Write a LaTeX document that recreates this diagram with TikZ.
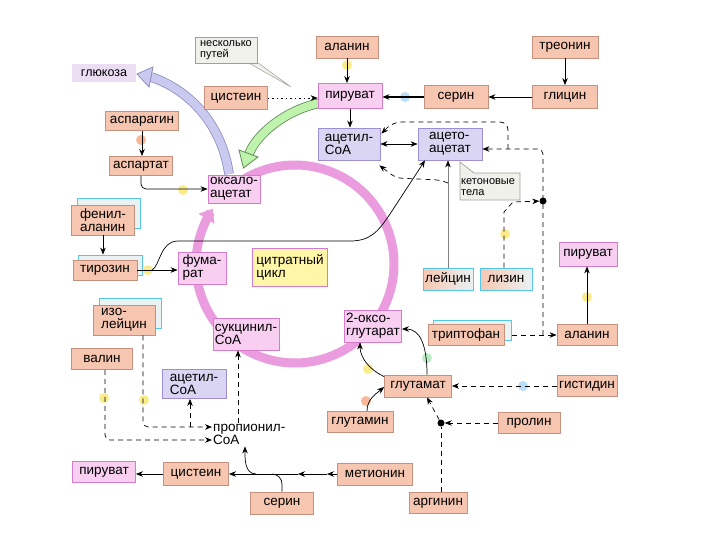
\documentclass[tikz,border=0pt]{standalone}
\usepackage{fontspec}
\setmainfont{Liberation Sans}
\usetikzlibrary{arrows.meta}
\definecolor{salF}{HTML}{F6C6B0}
\definecolor{salD}{HTML}{C4917E}
\definecolor{pinkF}{HTML}{F8CFF0}
\definecolor{pinkD}{HTML}{D47CC8}
\definecolor{lavF}{HTML}{DAD5F2}
\definecolor{lavD}{HTML}{9C90D2}
\definecolor{grayF}{HTML}{F1F1EC}
\definecolor{grayD}{HTML}{A0A09A}
\definecolor{cyanD}{HTML}{55C8E8}
\definecolor{shF}{HTML}{EAF2F4}
\definecolor{yelF}{HTML}{FFF6A8}
\definecolor{ringC}{HTML}{EA9CDF}
\definecolor{glF}{HTML}{CACAF0}
\definecolor{glD}{HTML}{8E8EC0}
\definecolor{grF}{HTML}{BFF2AC}
\definecolor{grD}{HTML}{5E8C54}
\definecolor{glcF}{HTML}{EBDDF2}
\definecolor{dotY}{HTML}{F8E040}
\definecolor{dotB}{HTML}{8CC8F0}
\definecolor{dotO}{HTML}{F08A50}
\definecolor{dotG}{HTML}{90E0A0}
\begin{document}
\begin{tikzpicture}[x=1pt,y=-1pt,
  lbl/.style={font=\fontsize{13.5}{13}\selectfont, align=left, inner sep=1pt},
  box/.style={lbl, draw, line width=0.8pt},
  sz/.style 2 args={minimum width=#1pt, minimum height=#2pt},
  sal/.style={box, fill=salF, draw=salD},
  pnk/.style={box, fill=pinkF, draw=pinkD},
  lav/.style={box, fill=lavF, draw=lavD},
  cyb/.style={box, draw=cyanD, left color=salF, right color=shF},
  shb/.style={draw=cyanD, fill=shF, line width=0.8pt, inner sep=0pt},
  ar/.style={line width=0.7pt, -{Stealth[length=7pt,width=5.5pt]}},
  dsh/.style={ar, dash pattern=on 5pt off 4pt},
  glow/.style={opacity=0.6},
  bdot/.style={circle, fill=black, inner sep=0pt, minimum size=7pt},
]
\fill[white] (0,0) rectangle (720,540);
\useasboundingbox (0,0) rectangle (720,540);

% citrate cycle ring
\draw[ringC, line width=9pt, -{Triangle[length=12pt,width=18pt]}]
  plot[domain=-130:214, samples=140] ({295+99*cos(\x)}, {264+99*sin(\x)});

% glucose block arrow
\draw[glD, line width=0.8pt, double=glF, double distance=8pt]
  (229,174) .. controls (222,125) and (190,90) .. (151,77);
\draw[glD, fill=glF, line width=0.8pt] (153,67) -- (137,74) -- (149,87) -- cycle;
% green block arrow
\draw[grD, line width=0.8pt, double=grF, double distance=8pt]
  (320,103) .. controls (285,110) and (256,135) .. (249,154);
\draw[grD, fill=grF, line width=0.8pt] (258,157) -- (243.5,168) -- (239,150) -- cycle;

% pointer of "several ways"
\draw[grayD, fill=grayF, line width=0.5pt] (247,62) -- (257,62) -- (291,87) -- cycle;

% shadow boxes
\node[shb, sz={63}{30}] (pheS) at (109,213) {};
\node[shb, sz={64}{20}] (tyrS) at (110,265) {};
\node[shb, sz={62}{30}] (ileS) at (130,313) {};
\node[shb, sz={78}{20}] (trpS) at (472,330) {};

% ketone bodies callout
\draw[grayD, fill=grayF, line width=0.7pt] (460,162) -- (474,173) -- (520,173) -- (520,200) -- (460,200) -- cycle;
\node[font=\fontsize{11}{11}\selectfont, align=left, inner sep=0pt, anchor=west] (keton) at (461,187) {кетоновые\\тела};

% nodes
\node[box, draw=grayD, fill=grayF, font=\fontsize{11}{10.5}\selectfont, sz={62}{26}] (few) at (226,50) {несколько\\путей};
\node[lbl, fill=glcF, font=\fontsize{12.5}{12}\selectfont, sz={64}{18}] (gluc) at (104,73) {глюкоза};
\node[sal, sz={62}{22}] (alan1) at (347,47) {аланин};
\node[sal, sz={66}{22}] (treon) at (565,47) {треонин};
\node[sal, sz={63}{23}] (cys1) at (236,98) {цистеин};
\node[pnk, sz={64}{25}] (pyr1) at (350,96) {пируват};
\node[sal, sz={64}{23}] (ser1) at (456,97) {серин};
\node[sal, sz={65}{23}] (gly) at (565,97) {глицин};
\node[sal, sz={73}{19}] (asn) at (142,121) {аспарагин};
\node[sal, sz={63}{19}] (asp) at (141,166) {аспартат};
\node[lav, sz={62}{32}] (acoa1) at (349,144) {ацетил-\\CoA};
\node[lav, sz={64}{32}] (acac) at (450,144) {ацето-\\ацетат};
\node[pnk, sz={52}{28}] (oxal) at (234,189) {оксало-\\ацетат};
\node[sal, sz={63}{30}] (phe) at (103,220) {фенил-\\аланин};
\node[sal, sz={64}{20}] (tyr) at (105,270) {тирозин};
\node[pnk, sz={48}{32}] (fum) at (202,268) {фума-\\рат};
\node[box, fill=yelF, draw=pinkD, sz={75}{38}] (cit) at (290,267) {цитратный\\цикл};
\node[cyb, sz={50}{22}] (leu) at (448,279) {лейцин};
\node[cyb, sz={52}{22}] (lys) at (506,279) {лизин};
\node[pnk, sz={58}{24}] (pyr2) at (588,254) {пируват};
\node[sal, sz={62}{30}] (ile) at (124,320) {изо-\\лейцин};
\node[pnk, sz={66}{32}] (succ) at (246,334) {сукцинил-\\CoA};
\node[pnk, sz={57}{32}] (oxo) at (373,326) {2-оксо-\\глутарат};
\node[sal, sz={76}{21}] (trp) at (466,335) {триптофан};
\node[sal, sz={60}{21}] (ala2) at (587,335) {аланин};
\node[sal, sz={61}{21}] (val) at (102,359) {валин};
\node[lav, sz={64}{29}] (acoa2) at (194,384) {ацетил-\\CoA};
\node[sal, sz={67}{22}] (glu) at (418,386) {глутамат};
\node[sal, sz={60}{21}] (his) at (587,386) {гистидин};
\node[sal, sz={66}{21}] (gln) at (360,422) {глутамин};
\node[sal, sz={62}{21}] (pro) at (529,423) {пролин};
\node[lbl, anchor=west] (prop) at (212,434) {пропионил-\\CoA};
\node[pnk, sz={63}{21}] (pyr3) at (104,472) {пируват};
\node[sal, sz={65}{23}] (cys2) at (196,474) {цистеин};
\node[sal, sz={75}{22}] (met) at (375,474) {метионин};
\node[sal, sz={63}{22}] (ser2) at (282,503) {серин};
\node[sal, sz={58}{21}] (arg) at (438,503) {аргинин};
\node[bdot] (d1) at (543,201) {};
\node[bdot] (d2) at (441,423) {};

% glow markers
\fill[dotY, glow] (347,65) circle (5pt);
\fill[dotB, glow] (405,97) circle (5pt);
\fill[dotO, glow] (141,140) circle (5pt);
\fill[dotY, glow] (183,190) circle (5pt);
\fill[dotY, glow] (148,270) circle (5pt);
\fill[dotY, glow] (505,234) circle (5pt);
\fill[dotY, glow] (587,297) circle (5pt);
\fill[dotY, glow] (104,398) circle (5pt);
\fill[dotY, glow] (144,400) circle (5pt);
\fill[dotY, glow] (368,369) circle (5pt);
\fill[dotG, glow] (427,358) circle (5pt);
\fill[dotO, glow] (366,401) circle (5pt);
\fill[dotB, glow] (523,386) circle (5pt);

% connectors top
\draw[ar] (alan1.south) -- (alan1.south |- pyr1.north);
\draw[ar] (treon) -- (gly);
\draw[ar] (gly) -- (ser1);
\draw[ar, line width=1.1pt] (ser1.west) -- (ser1.west -| pyr1.east);
\draw[ar, dash pattern=on 1.5pt off 3pt] (cys1.east) -- (cys1.east -| pyr1.west);
\draw[ar] (pyr1.south) -- (pyr1.south |- acoa1.north);
\draw[line width=0.7pt, {Stealth[length=7pt,width=5.5pt]}-{Stealth[length=7pt,width=5.5pt]}] (acoa1) -- (acac);

% right dashed network
\coordinate (jt) at (543,335);
\coordinate (lp) at (508,149);
\draw[dsh, rounded corners=5pt] (jt) -- (543,149) -- ([yshift=-5pt]acac.east);
\draw[dsh, rounded corners=8pt] (lp) -- (508,122) -- (393,122) -- ([xshift=1pt,yshift=-6pt]acoa1.north east);
\draw[gray, line width=0.6pt, -{Stealth[length=7pt,width=5.5pt,black]}] (leu.north) -- (leu.north |- acac.south);
\coordinate (lb) at (448,183);
\draw[dsh, rounded corners=6pt] (lb) -- (440,180) -- (396,178) -- ([xshift=-1pt,yshift=-5pt]acoa1.south east);
\draw[dsh] ([xshift=-2pt]lys.north) -- (504,212) -- (513,202) -- (d1);
\draw[dsh] ([xshift=8pt]trp.east) -- (ala2.west);
\draw[ar] (ala2.north) -- (ala2.north |- pyr2.south);

% left side
\draw[ar] (asn.south) -- (asn.south |- asp.north);
\draw[ar, rounded corners=5pt] (asp.south) |- (oxal.west);
\draw[ar] (phe.south) -- (phe.south |- tyrS.north);
\draw[ar] (tyr.east) -- (tyr.east -| fum.west);
\coordinate (tb) at (152,270);
\draw[ar] (tb) .. controls (160,266) and (160,241) .. (178,241) -- (350,241)
  .. controls (370,241) and (378,232) .. (390,214) -- ([xshift=-25pt]acac.south);

% propionyl
\draw[dsh, rounded corners=5pt] ([xshift=19pt]ile.south) |- ([yshift=7pt]prop.west);
\draw[dsh, rounded corners=5pt] ([xshift=3pt]val.south) |- ([yshift=-6pt]prop.west);
\coordinate (ib) at (190,427);
\draw[dsh] (ib) -- (ib |- acoa2.south);
\coordinate (pt) at ([xshift=26pt]prop.north west);
\draw[dsh] (pt) -- (pt |- succ.south);

% bottom line
\coordinate (m1) at (327,474);
\coordinate (m2) at (298,474);
\draw[ar] (met.west) -- (m1);
\draw[ar] (m1) -- (m2);
\draw[ar] (m2) -- (cys2.east);
\draw[ar] (256,474) to[out=180,in=-90] ([xshift=33pt,yshift=-1pt]prop.south west);
\draw[line width=0.7pt] (ser2.north) -- (282,484) to[out=90,in=0] (272,474);
\draw[ar] (cys2.west) -- (cys2.west -| pyr3.east);

% glutamate
\draw[ar] ([xshift=7pt]gln.north) to[out=90,in=-140] ([yshift=-1pt]glu.west);
\draw[ar] ([yshift=-2pt]glu.north west) .. controls (370,370) and (360,358) .. ([xshift=-13pt]oxo.south);
\draw[ar] ([xshift=9pt]glu.north) .. controls (427,345) and (420,329) .. ([yshift=-3pt]oxo.east);
\draw[dsh] (his.west) -- (his.west -| glu.east);
\draw[dsh] (pro.west) -- (d2);
\draw[line width=0.7pt, dash pattern=on 5pt off 4pt] (d2 |- arg.north) -- (d2);
\draw[dsh] (d2) -- ([xshift=9pt]glu.south);
\end{tikzpicture}
\end{document}
